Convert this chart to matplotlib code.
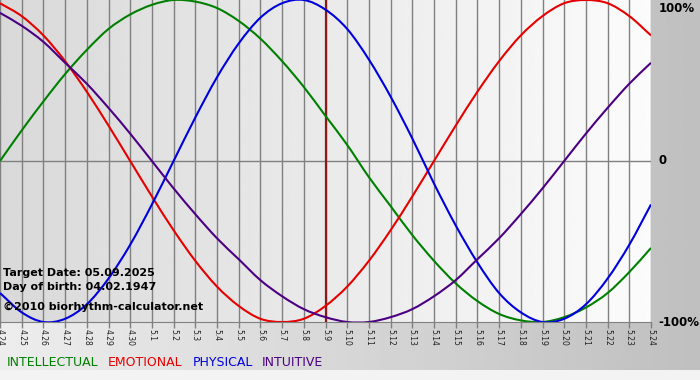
import numpy as np
import matplotlib
matplotlib.use("Agg")
import matplotlib.pyplot as plt
from matplotlib.patches import Rectangle, PathPatch
from matplotlib.path import Path

# Dates shown along the bottom (4.24 .. 5.24)
dates = ["4.24", "4.25", "4.26", "4.27", "4.28", "4.29", "4.30",
         "5.1", "5.2", "5.3", "5.4", "5.5", "5.6", "5.7", "5.8", "5.9",
         "5.10", "5.11", "5.12", "5.13", "5.14", "5.15", "5.16", "5.17",
         "5.18", "5.19", "5.20", "5.21", "5.22", "5.23", "5.24"]

# Cycle values, one per day (-1 .. 1)
intellectual = [0.00, 0.19, 0.37, 0.54, 0.69, 0.82, 0.91, 0.97, 1.00, 0.99,
                0.95, 0.87, 0.76, 0.62, 0.46, 0.28, 0.10, -0.10, -0.28, -0.46,
                -0.62, -0.76, -0.87, -0.95, -0.99, -1.00, -0.97, -0.91, -0.82, -0.69,
                -0.54]
emotional = [0.98, 0.90, 0.78, 0.62, 0.43, 0.22, 0.00, -0.22, -0.43, -0.62,
             -0.78, -0.90, -0.98, -1.00, -0.98, -0.90, -0.78, -0.62, -0.43, -0.22,
             0.00, 0.22, 0.43, 0.62, 0.78, 0.90, 0.98, 1.00, 0.98, 0.90,
             0.78]
physical = [-0.82, -0.94, -1.00, -0.98, -0.89, -0.73, -0.52, -0.27, 0.00, 0.27,
            0.52, 0.73, 0.89, 0.98, 1.00, 0.94, 0.82, 0.63, 0.40, 0.14,
            -0.14, -0.40, -0.63, -0.82, -0.94, -1.00, -0.98, -0.89, -0.73, -0.52,
            -0.27]
intuitive = [0.92, 0.84, 0.74, 0.61, 0.48, 0.33, 0.17, 0.00, -0.17, -0.33,
             -0.48, -0.61, -0.74, -0.84, -0.92, -0.97, -1.00, -1.00, -0.97, -0.92,
             -0.84, -0.74, -0.61, -0.48, -0.33, -0.17, 0.00, 0.17, 0.33, 0.48,
             0.61]

target_idx = dates.index("5.9")

series = [("INTELLECTUAL", intellectual, "#008000"),
          ("EMOTIONAL", emotional, "#e60000"),
          ("PHYSICAL", physical, "#0000dd"),
          ("INTUITIVE", intuitive, "#4b0082")]


def smooth_path(x, y):
    # bezier curve passing through every read point (Catmull-Rom style)
    pts = np.column_stack([x, y]).astype(float)
    ext = np.vstack([2 * pts[0] - pts[1], pts, 2 * pts[-1] - pts[-2]])
    verts = [pts[0]]
    codes = [Path.MOVETO]
    for i in range(len(pts) - 1):
        p0, p1, p2, p3 = ext[i], ext[i + 1], ext[i + 2], ext[i + 3]
        verts += [p1 + (p2 - p0) / 6, p2 - (p3 - p1) / 6, p2]
        codes += [Path.CURVE4] * 3
    return Path(verts, codes)


W, H = 700, 380
fig = plt.figure(figsize=(W / 100, H / 100), dpi=100)

# background: grey gradient behind everything, light strip at the very bottom
bg = fig.add_axes([0, 0, 1, 1])
bg.imshow(np.linspace(0.93, 0.75, 256)[None, :], cmap="gray", vmin=0, vmax=1,
          extent=[0, W, 370, 0], aspect="auto")
bg.add_patch(Rectangle((0, 370), W, 10, color="#f3f3f3", lw=0))
bg.set_xlim(0, W)
bg.set_ylim(H, 0)
bg.axis("off")

ax = fig.add_axes([0, 58 / H, 651 / W, 322 / H])
days = np.arange(len(dates))
ax.imshow(np.linspace(0.85, 0.985, 256)[None, :], cmap="gray", vmin=0, vmax=1,
          extent=[0, len(dates) - 1, -1, 1], aspect="auto", zorder=0)

ax.set_axisbelow(True)
ax.set_xticks(days)
ax.set_xticklabels(dates)
ax.grid(axis="x", color="#808080", lw=1)
ax.axhline(0, color="#808080", lw=1, zorder=0.6)
ax.axvline(target_idx, color="#8b1a1a", lw=1.6, zorder=1)

for name, vals, col in series:
    ax.add_patch(PathPatch(smooth_path(days, vals), facecolor="none",
                           edgecolor=col, lw=1.5, zorder=2))

ax.set_xlim(0, len(dates) - 1)
ax.set_ylim(-1, 1)
ax.set_yticks([])
for s in ["top", "left", "right"]:
    ax.spines[s].set_visible(False)
ax.spines["bottom"].set_color("#808080")
ax.tick_params(axis="x", length=4, width=1, color="#808080", direction="out",
               pad=1, labelsize=5.5, labelrotation=270, labelcolor="#202020")

# scale labels on the right
ytr = ax.get_yaxis_transform()
ax.text(1.012, 0.985, "100%", transform=ytr, ha="left", va="top",
        fontsize=8.5, fontweight="bold", clip_on=False)
ax.text(1.012, 0, "0", transform=ytr, ha="left", va="center",
        fontsize=8.5, fontweight="bold", clip_on=False)
ax.text(1.012, -1, "-100%", transform=ytr, ha="left", va="center",
        fontsize=8.5, fontweight="bold", clip_on=False)

# info text in the lower left
info = [("Target Date: 05.09.2025", 276),
        ("Day of birth: 04.02.1947", 290),
        ("\u00a92010 biorhythm-calculator.net", 310)]
for txt, yb in info:
    fig.text(3 / W, 1 - yb / H, txt, fontsize=8, fontweight="bold",
             va="baseline", ha="left", color="black")

# coloured legend words along the bottom
legend_x = [7, 108, 193, 262]
for (name, vals, col), lx in zip(series, legend_x):
    fig.text(lx / W, 1 - 366 / H, name, color=col, fontsize=9,
             va="baseline", ha="left")

fig.savefig("out.png", dpi=100)
